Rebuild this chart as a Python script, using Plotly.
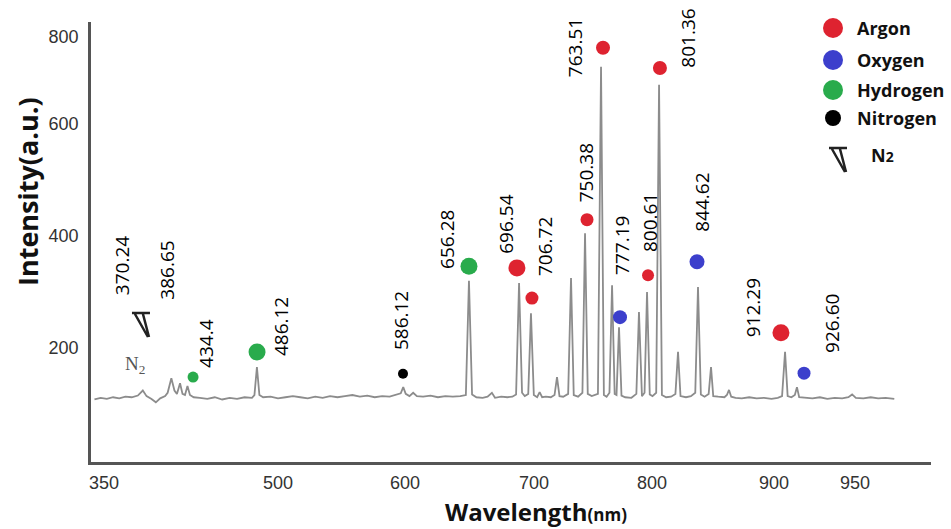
import plotly.graph_objects as go

# ---------------- data (x in nm as drawn, y in a.u.) ----------------
spec_x = [352, 357, 362, 367, 372, 377, 382, 387, 391, 394, 398, 401.5, 405, 409, 411, 414, 416.5, 418.5,
          421, 423, 425, 427, 429, 432, 437, 443, 449, 455, 461, 467, 473, 479, 481, 483, 485, 488, 494,
          500, 506, 512, 518, 524, 530, 536, 542, 548, 554, 560, 566, 572, 578, 584, 590, 595, 599, 601,
          603, 606, 609, 612, 617, 623, 629, 635, 641, 647, 651.5, 654, 656.5, 660, 665, 669, 672.5, 675,
          680, 685, 689, 692, 694.4, 696.8, 699, 701.8, 704, 706.3, 709, 711, 713, 716, 720, 723, 725,
          727, 730, 734, 736.3, 738.5, 742, 745.5, 747.6, 749.8, 753, 758, 760.5, 762.8, 765, 767.3,
          769.4, 771.5, 773, 775, 777, 780, 785, 789, 791.1, 793.5, 795.6, 797.6, 799.8, 802, 805, 807.3,
          809.6, 813, 817, 820.5, 822.6, 824.6, 829, 833, 836.5, 838.7, 841, 844, 847.3, 849.2, 851, 855,
          860, 862, 863.7, 865.5, 869, 874, 880, 886, 892, 898, 903, 906.5, 908.9, 911, 914, 916.8, 918.5,
          920.3, 925, 931, 937, 943, 949, 955, 960, 963, 966, 972, 978, 984, 990, 997]
spec_y = [108, 111, 109, 112, 110, 113, 112, 115, 124, 114, 109, 103, 110, 114, 120, 146, 124, 118,
          137, 118, 116, 132, 116, 112, 111, 109, 112, 108, 111, 109, 112, 111, 116, 166, 116, 112, 113,
          110, 112, 114, 112, 110, 113, 111, 114, 112, 114, 116, 113, 115, 112, 114, 113, 116, 119, 130,
          118, 114, 120, 114, 113, 115, 112, 114, 113, 114, 116, 320, 117, 112, 111, 113, 120, 111,
          113, 112, 113, 117, 316, 120, 114, 118, 262, 116, 112, 121, 112, 113, 112, 116, 148,
          114, 113, 118, 325, 116, 113, 120, 405, 118, 114, 118, 702, 116, 113, 120,
          312, 118, 116, 237, 115, 112, 111, 118, 264, 114, 120, 300, 117, 114, 120, 670,
          116, 112, 113, 118, 193, 114, 112, 114, 120, 309, 117, 113, 118, 166, 114, 113,
          112, 116, 125, 113, 111, 110, 112, 110, 111, 109, 111, 114, 193, 114, 112, 116, 130,
          112, 111, 110, 112, 109, 111, 110, 112, 117, 111, 110, 112, 110, 111, 109]

argon_x = [692.7, 704.8, 749.2, 762.1, 798.4, 808.0, 905.6]
argon_y = [343, 289, 429, 736, 330, 700, 227]
oxygen_x = [775.8, 837.9, 924.2]
oxygen_y = [255, 354, 155]
hydrogen_x = [431.5, 483.1, 654.0]
hydrogen_y = [148, 193, 346]
nitrogen_x = [600.8]
nitrogen_y = [154]
n2_x = [389.5]
n2_y = [241]
n2_text_x = [384.7]
n2_text_y = [170]

line_labels = ["370.24", "386.65", "434.4", "486.12", "586.12", "656.28", "696.54", "706.72",
               "750.38", "763.51", "777.19", "800.61", "801.36", "844.62", "912.29", "926.60"]
label_x = [374.2, 410.5, 441.9, 502.4, 599.2, 636.3, 683.9, 715.3,
           748.4, 739.5, 777.4, 800.0, 830.6, 841.9, 883.1, 946.8]
label_y = [346, 338, 209, 239, 248, 393, 420, 382,
           512, 737, 384, 423, 754, 461, 271, 243]

x_tick_text = ["350", "500", "600", "700", "800", "900", "950"]
x_tick_pos = [359.7, 500, 602.4, 706.5, 801.6, 900, 965.3]
y_tick_text = ["200", "400", "600", "800"]
y_tick_pos = [200, 400, 600, 755]

legend_names = ["Argon", "Oxygen", "Hydrogen", "Nitrogen"]

# ---------------- styles ----------------
RED, BLUE, GREEN, BLACK = "#de2330", "#3c3fcc", "#29ab4c", "#000000"
argon_sizes = [17, 13, 13, 14, 12, 14, 17]
oxygen_sizes = [14, 15, 13]
hydrogen_sizes = [11, 17, 17]
nitrogen_sizes = [10]
GLYPH = "M -9 12 L 9 12 M -6 11 L 7 -12 M 2 11 L 8 -12"

fig = go.Figure()
fig.add_trace(go.Scatter(x=spec_x, y=spec_y, mode="lines",
                         line=dict(color="#8c8c8c", width=1.8), hoverinfo="skip", showlegend=False))
for xs, ys, col, sz, nm in [(argon_x, argon_y, RED, argon_sizes, "Argon"),
                            (oxygen_x, oxygen_y, BLUE, oxygen_sizes, "Oxygen"),
                            (hydrogen_x, hydrogen_y, GREEN, hydrogen_sizes, "Hydrogen"),
                            (nitrogen_x, nitrogen_y, BLACK, nitrogen_sizes, "Nitrogen")]:
    fig.add_trace(go.Scatter(x=xs, y=ys, mode="markers", name=nm, showlegend=False,
                             marker=dict(color=col, size=sz, opacity=1, line=dict(width=0))))

annotations = []
for t, xv, yv in zip(line_labels, label_x, label_y):
    annotations.append(dict(x=xv, y=yv, xref="x", yref="y", text=t, textangle=-90, showarrow=False,
                            xanchor="center", yanchor="middle",
                            font=dict(family="Open Sans", size=19, color="#000")))
# N2 text near band
for xv, yv in zip(n2_text_x, n2_text_y):
    annotations.append(dict(x=xv, y=yv, xref="x", yref="y", text="N<sub>2</sub>",
                            xanchor="center", yanchor="middle", showarrow=False,
                            font=dict(family="Liberation Serif", size=19, color="#555")))

shapes = []
for gx, gy in zip(n2_x, n2_y):
    shapes.append(dict(type="path", xref="x", yref="y", xsizemode="pixel", ysizemode="pixel",
                       xanchor=gx, yanchor=gy, path=GLYPH, line=dict(color="#222", width=2.5)))

# manual legend (top right)
def px2paper(px, py):
    return (px - 91) / 840.0, (462 - py) / 440.0

leg_cols = [RED, BLUE, GREEN, BLACK]
leg_py = [28, 60, 90, 118]
leg_d = [20, 20, 20, 16]
for name, col, py, d in zip(legend_names, leg_cols, leg_py, leg_d):
    cx, cy = px2paper(833, py)
    shapes.append(dict(type="circle", xref="paper", yref="paper", xsizemode="pixel", ysizemode="pixel",
                       xanchor=cx, yanchor=cy, x0=-d / 2, x1=d / 2, y0=-d / 2, y1=d / 2,
                       fillcolor=col, line=dict(width=0)))
    tx, ty = px2paper(855, py)
    annotations.append(dict(x=tx, y=ty, xref="paper", yref="paper", text="<b>" + name + "</b>",
                            xanchor="left", yanchor="middle", showarrow=False,
                            font=dict(family="Open Sans", size=18, color="#111")))
gx, gy = px2paper(838, 160)
shapes.append(dict(type="path", xref="paper", yref="paper", xsizemode="pixel", ysizemode="pixel",
                   xanchor=gx, yanchor=gy, path=GLYPH, line=dict(color="#222", width=2.5)))
tx, ty = px2paper(869, 155)
annotations.append(dict(x=tx, y=ty, xref="paper", yref="paper",
                        text="<b>N<span style='font-size:14px'>2</span></b>",
                        xanchor="left", yanchor="middle", showarrow=False,
                        font=dict(family="Open Sans", size=18, color="#111")))

# axis titles
ax, ay = px2paper(27, 192)
annotations.append(dict(x=ax, y=ay, xref="paper", yref="paper", text="<b>Intensity(a.u.)</b>",
                        textangle=-90, showarrow=False, xanchor="center", yanchor="middle",
                        font=dict(family="Open Sans", size=27, color="#111")))
bx, by = px2paper(536, 511)
annotations.append(dict(x=bx, y=by, xref="paper", yref="paper",
                        text="<b>Wavelength</b><b><span style='font-size:17px'>(nm)</span></b>",
                        showarrow=False, xanchor="center", yanchor="middle", borderpad=0,
                        font=dict(family="Open Sans", size=24, color="#111")))

fig.update_layout(
    width=951, height=529, autosize=False,
    margin=dict(l=91, r=20, t=22, b=67, pad=0),
    paper_bgcolor="white", plot_bgcolor="white",
    showlegend=False,
    annotations=annotations, shapes=shapes,
    xaxis=dict(range=[349.2, 1026.6], showline=True, linecolor="#555", linewidth=2.5,
               showgrid=False, zeroline=False, ticks="", tickvals=x_tick_pos, ticktext=x_tick_text,
               ticklabelstandoff=3,
               tickfont=dict(family="Liberation Sans", size=18, color="#333")),
    yaxis=dict(range=[-3.6, 782], showline=True, linecolor="#555", linewidth=2.5,
               showgrid=False, zeroline=False, ticks="", tickvals=y_tick_pos, ticktext=y_tick_text,
               ticklabelstandoff=6,
               tickfont=dict(family="Liberation Sans", size=18, color="#333")),
)
fig.write_html("out.html", config={"displayModeBar": False},
               post_script="document.body.style.margin='0';document.body.style.overflow='hidden';")
